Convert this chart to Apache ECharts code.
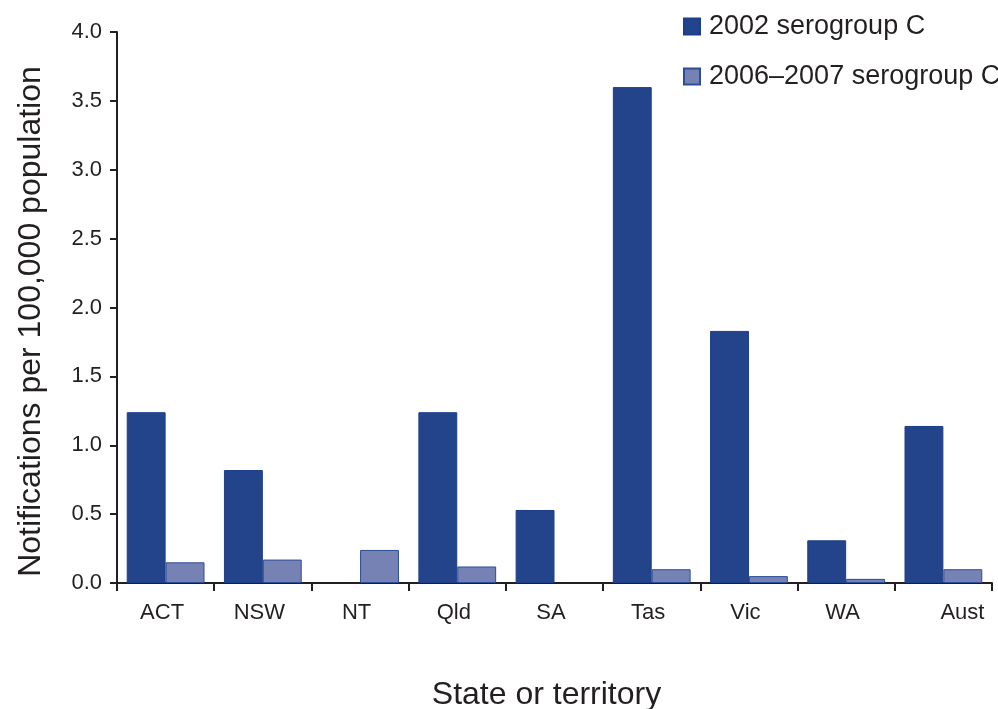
<!DOCTYPE html>
<html><head><meta charset="utf-8">
<script src="https://cdn.jsdelivr.net/npm/echarts@6/dist/echarts.min.js"></script>
<style>html,body{margin:0;padding:0;background:#fff;overflow:hidden}#c{width:998px;height:709px}</style>
</head><body><div id="c"></div>
<script>
const categories = ['ACT','NSW','NT','Qld','SA','Tas','Vic','WA','Aust'];
const series2002 = [1.24, 0.82, 0, 1.24, 0.53, 3.60, 1.83, 0.31, 1.14];
const series2006 = [0.15, 0.17, 0.24, 0.12, 0, 0.10, 0.05, 0.03, 0.10];
const yTicks = [0, 0.5, 1.0, 1.5, 2.0, 2.5, 3.0, 3.5, 4.0];

const chart = echarts.init(document.getElementById('c'));
const font = 'Liberation Sans, Arial, sans-serif';
const ink = '#231f20';
const noZero = arr => arr.map(v => v === 0 ? null : v);
chart.setOption({
  animation: false,
  textStyle: {fontFamily: font},
  grid: {left: 117, right: 6, top: 32, bottom: 126, containLabel: false, outerBoundsMode: 'none'},
  legend: {
    orient: 'vertical', left: 678, top: 8,
    icon: 'rect', itemWidth: 16, itemHeight: 16, itemGap: 23,
    textStyle: {fontSize: 27, color: ink, fontFamily: font, padding: [0,0,0,4]},
    data: ['2002 serogroup C', '2006\u20132007 serogroup C']
  },
  xAxis: {
    type: 'category', data: categories,
    name: 'State or territory', nameLocation: 'middle', nameGap: 96,
    nameTextStyle: {fontSize: 32, color: ink, fontFamily: font, padding: [0, 16, 0, 0]},
    axisLine: {lineStyle: {color: ink, width: 2}},
    axisTick: {show: true, interval: 0, length: 8, lineStyle: {color: ink, width: 2}},
    axisLabel: {interval: 0, hideOverlap: false, fontSize: 22, color: ink, margin: 19, fontFamily: font,
      formatter: v => v === 'Aust' ? '{r|' + v + '}' : '{l|' + v + '}',
      rich: {
        l: {fontSize: 22, color: ink, fontFamily: font, padding: [0, 7, 0, 0]},
        r: {fontSize: 22, color: ink, fontFamily: font, padding: [0, 0, 0, 38]}
      }}
  },
  yAxis: {
    type: 'value', min: yTicks[0], max: yTicks[yTicks.length-1], interval: 0.5,
    name: 'Notifications per 100,000 population', nameLocation: 'middle', nameGap: 70,
    nameTextStyle: {fontSize: 32, color: ink, fontFamily: font, padding: [0, 28, 0, 0]},
    axisLine: {show: true, lineStyle: {color: ink, width: 2}},
    axisTick: {show: true, length: 7, lineStyle: {color: ink, width: 2}},
    axisLabel: {fontSize: 22, color: ink, margin: 15, fontFamily: font,
      formatter: v => v.toFixed(1)},
    splitLine: {show: false}
  },
  series: [
    {name: '2002 serogroup C', type: 'bar', data: noZero(series2002),
     barCategoryGap: '20%', barGap: '0%',
     itemStyle: {color: '#23448a', borderColor: '#1c3f8c', borderWidth: 1}},
    {name: '2006\u20132007 serogroup C', type: 'bar', data: noZero(series2006),
     itemStyle: {color: '#7782b4', borderColor: '#2c4d99', borderWidth: 1}}
  ]
});
</script></body></html>
